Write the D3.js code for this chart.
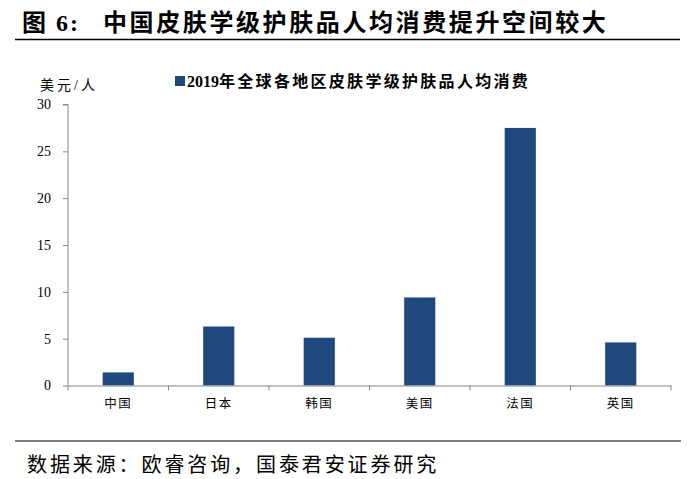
<!DOCTYPE html>
<html>
<head>
<meta charset="utf-8">
<script src="https://cdn.jsdelivr.net/npm/d3@7"></script>
<style>
html, body { margin: 0; padding: 0; background: #fff; }
svg { display: block; }
</style>
</head>
<body>
<svg id="chart" width="689" height="479"></svg>
<script>
const categories = ["中国", "日本", "韩国", "美国", "法国", "英国"];
const values = [1.4, 6.3, 5.1, 9.4, 27.5, 4.6];
const yTicks = [0, 5, 10, 15, 20, 25, 30];
const seriesYear = "2019";
const seriesName = "年全球各地区皮肤学级护肤品人均消费";
const titleLabel = "图 6:";
const titleText = "中国皮肤学级护肤品人均消费提升空间较大";
const unitText = "美元/人";
const sourceText = "数据来源：欧睿咨询，国泰君安证券研究";

const svg = d3.select("#chart");
const serif = "'Liberation Serif', 'Noto Sans CJK SC', serif";
const cjk = "'Liberation Serif', 'Noto Sans CJK SC', sans-serif";
const barColor = "#1f497d";
const axisColor = "#868686";

// Title
svg.append("text")
  .attr("x", 22).attr("y", 31)
  .attr("font-family", cjk).attr("font-weight", "bold")
  .attr("font-size", 24).attr("letter-spacing", 2)
  .attr("fill", "#000")
  .text(titleLabel);
svg.append("text")
  .attr("x", 103).attr("y", 31)
  .attr("font-family", cjk).attr("font-weight", "bold")
  .attr("font-size", 24).attr("letter-spacing", 2.6)
  .attr("fill", "#000")
  .text(titleText);
svg.append("line")
  .attr("x1", 15).attr("x2", 680).attr("y1", 39.5).attr("y2", 39.5)
  .attr("stroke", "#000").attr("stroke-width", 1.6);

// Scales
const x = d3.scaleBand().domain(categories).range([68, 671]).paddingInner(0.69).paddingOuter(0.345);
const y = d3.scaleLinear().domain([0, 30]).range([385.5, 104.5]);

// Bars
svg.append("g").selectAll("rect").data(values).join("rect")
  .attr("x", (d, i) => x(categories[i]))
  .attr("y", d => y(d))
  .attr("width", x.bandwidth())
  .attr("height", d => y(0) - y(d))
  .attr("fill", barColor);

// Y axis
const yAxis = svg.append("g").attr("transform", "translate(68,0)")
  .call(d3.axisLeft(y).tickValues(yTicks).tickSize(5).tickPadding(12));
yAxis.select(".domain").attr("stroke", axisColor).attr("d", `M-5,${y(30)}H0V${y(0)}`);
yAxis.selectAll(".tick line").attr("stroke", axisColor);
yAxis.selectAll(".tick text").attr("font-family", serif).attr("font-size", 14).attr("fill", "#000");

// X axis
const xAxisScale = d3.scaleBand().domain(categories).range([68, 671]);
const xAxis = svg.append("g").attr("transform", `translate(0,${y(0)})`)
  .call(d3.axisBottom(xAxisScale).tickSize(0).tickPadding(14));
xAxis.select(".domain").attr("stroke", axisColor);
xAxis.selectAll(".tick text").attr("font-family", cjk).attr("font-size", 12.5)
  .attr("letter-spacing", 1.5).attr("fill", "#000");
// boundary ticks between categories
svg.append("g").selectAll("line").data(d3.range(categories.length + 1)).join("line")
  .attr("x1", i => 68 + i * xAxisScale.step()).attr("x2", i => 68 + i * xAxisScale.step())
  .attr("y1", y(0)).attr("y2", y(0) + 5)
  .attr("stroke", axisColor);

// Unit label
svg.append("text")
  .attr("x", 40).attr("y", 90)
  .attr("font-family", cjk).attr("font-size", 14).attr("letter-spacing", 3)
  .attr("fill", "#000").text(unitText);

// Legend
svg.append("rect").attr("x", 175).attr("y", 76).attr("width", 10).attr("height", 10).attr("fill", barColor);
const leg = svg.append("text")
  .attr("x", 187).attr("y", 87)
  .attr("font-family", cjk).attr("font-weight", "bold").attr("font-size", 16)
  .attr("fill", "#000");
leg.append("tspan").attr("letter-spacing", 0).text(seriesYear);
leg.append("tspan").attr("letter-spacing", 2.3).text(seriesName);

// Bottom line and source
svg.append("line")
  .attr("x1", 15).attr("x2", 681).attr("y1", 441).attr("y2", 441)
  .attr("stroke", "#000").attr("stroke-width", 1.2);
svg.append("text")
  .attr("x", 27).attr("y", 472)
  .attr("font-family", cjk).attr("font-size", 20).attr("letter-spacing", 2.9)
  .attr("fill", "#000").text(sourceText);
</script>
</body>
</html>
